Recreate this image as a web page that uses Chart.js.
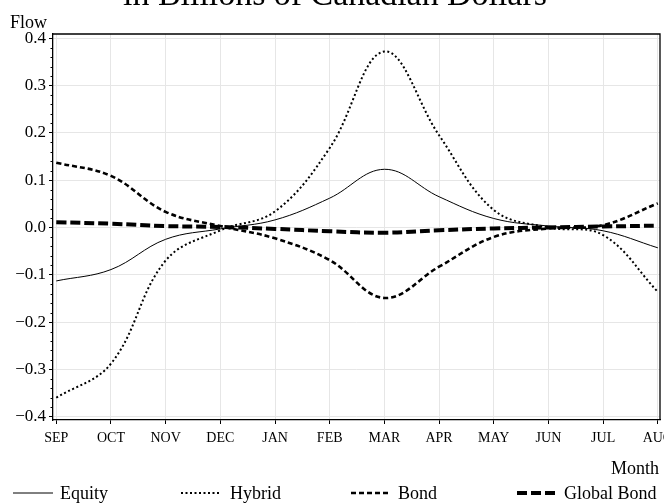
<!DOCTYPE html>
<html>
<head>
<meta charset="utf-8">
<script src="https://cdn.jsdelivr.net/npm/chart.js@4.4.1/dist/chart.umd.min.js"></script>
<style>
  html, body { margin: 0; padding: 0; background: #fff; }
  #wrap { width: 664px; height: 503px; position: relative; }
</style>
</head>
<body>
<div id="wrap"><canvas id="flowChart" width="664" height="503"></canvas></div>
<script>
// Data
const months = ['SEP', 'OCT', 'NOV', 'DEC', 'JAN', 'FEB', 'MAR', 'APR', 'MAY', 'JUN', 'JUL', 'AUG'];
const equity = [-0.113, -0.089, -0.025, -0.003, 0.016, 0.062, 0.123, 0.065, 0.019, 0.003, -0.007, -0.043];
const hybrid = [-0.360, -0.288, -0.070, -0.006, 0.034, 0.168, 0.372, 0.195, 0.037, 0.000, -0.016, -0.136];
const bond = [0.137, 0.109, 0.033, 0.003, -0.023, -0.069, -0.149, -0.083, -0.020, -0.002, 0.005, 0.051];
const globalBond = [0.011, 0.008, 0.003, 0.001, -0.003, -0.008, -0.011, -0.006, -0.002, 0.000, 0.002, 0.004];
const yTicks = [-0.4, -0.3, -0.2, -0.1, 0.0, 0.1, 0.2, 0.3, 0.4];
const titleText = 'in Billions of Canadian Dollars';

const SERIF = "'Liberation Serif', 'DejaVu Serif', serif";

const toPoints = (arr) => arr.map((v, i) => ({ x: i, y: v }));

const seriesDefs = [
    { label: 'Equity', data: equity, width: 1, dash: [] },
    { label: 'Hybrid', data: hybrid, width: 2, dash: [2, 2.5] },
    { label: 'Bond', data: bond, width: 2.6, dash: [5, 3] },
    { label: 'Global Bond', data: globalBond, width: 4, dash: [10, 4] }
];

const fmt = (v) => {
    const s = Math.abs(v).toFixed(1);
    return v < -1e-9 ? '\u2212' + s : s;
};

// frame, minor ticks, title, axis labels, legend
const decorPlugin = {
    id: 'decor',
    afterDraw(chart) {
        const ctx = chart.ctx;
        const area = chart.chartArea;
        const yScale = chart.scales.y;
        ctx.save();

        // frame
        ctx.strokeStyle = '#000';
        ctx.lineWidth = 1.3;
        ctx.setLineDash([]);
        ctx.beginPath();
        ctx.moveTo(area.left, area.top);
        ctx.lineTo(area.right, area.top);
        ctx.lineTo(area.right, area.bottom);
        ctx.stroke();

        // minor ticks on y
        ctx.lineWidth = 1;
        for (let k = -40; k <= 40; k += 2) {
            if (k % 10 === 0) continue;
            const py = Math.round(yScale.getPixelForValue(k / 100)) + 0.5;
            ctx.beginPath();
            ctx.moveTo(area.left - 2.5, py);
            ctx.lineTo(area.left, py);
            ctx.stroke();
        }

        // title (mostly cut off at the top)
        ctx.fillStyle = '#000';
        ctx.textAlign = 'center';
        ctx.textBaseline = 'alphabetic';
        let size = 28;
        ctx.font = size + 'px ' + SERIF;
        const w = ctx.measureText(titleText).width;
        size = size * 424 / w;
        ctx.font = size + 'px ' + SERIF;
        ctx.fillText(titleText, 335, 5);

        // axis labels
        ctx.font = '18px ' + SERIF;
        ctx.textAlign = 'left';
        ctx.fillText('Flow', 10, 28);
        ctx.textAlign = 'right';
        ctx.fillText('Month', 659, 474);

        // legend
        const legendX = [[13, 53, 60], [181, 221, 230], [351, 391, 398], [517, 557, 564]];
        const ly = 493;
        ctx.textAlign = 'left';
        seriesDefs.forEach((s, i) => {
            const [x0, x1, tx] = legendX[i];
            ctx.strokeStyle = '#000';
            ctx.lineWidth = s.width;
            ctx.setLineDash(s.dash);
            ctx.beginPath();
            ctx.moveTo(x0, ly);
            ctx.lineTo(x1, ly);
            ctx.stroke();
            ctx.setLineDash([]);
            ctx.fillText(s.label, tx, ly + 6);
        });
        ctx.restore();
    }
};

new Chart(document.getElementById('flowChart'), {
    type: 'line',
    data: {
        datasets: seriesDefs.map(s => ({
            label: s.label,
            data: toPoints(s.data),
            borderColor: '#000',
            borderWidth: s.width,
            borderDash: s.dash,
            pointRadius: 0,
            fill: false,
            tension: 0.38
        }))
    },
    options: {
        responsive: false,
        animation: false,
        layout: { padding: { top: 34, right: 4, left: 0, bottom: 0 } },
        plugins: {
            legend: { display: false },
            tooltip: { enabled: false },
            title: { display: false }
        },
        scales: {
            x: {
                type: 'linear',
                min: -0.06,
                max: 11.04,
                afterBuildTicks: (scale) => {
                    scale.ticks = months.map((m, i) => ({ value: i }));
                },
                afterFit: (scale) => {
                    scale.height = 83;
                    scale.paddingLeft = 0;
                    scale.paddingRight = 0;
                },
                ticks: {
                    autoSkip: false,
                    maxRotation: 0,
                    padding: 6,
                    color: '#000',
                    font: { family: SERIF, size: 14 },
                    callback: (v) => months[v]
                },
                grid: {
                    color: '#e6e6e6',
                    lineWidth: 1,
                    tickLength: 4,
                    tickColor: '#000',
                    drawTicks: true
                },
                border: { color: '#000', width: 1.3 }
            },
            y: {
                min: -0.407,
                max: 0.409,
                afterBuildTicks: (scale) => {
                    scale.ticks = yTicks.map(v => ({ value: v }));
                },
                afterFit: (scale) => {
                    scale.width = 53;
                    scale.paddingTop = 0;
                    scale.paddingBottom = 0;
                },
                ticks: {
                    padding: 3,
                    color: '#000',
                    font: { family: SERIF, size: 17 },
                    callback: (v) => fmt(v)
                },
                grid: {
                    color: '#e6e6e6',
                    lineWidth: 1,
                    tickLength: 4,
                    tickColor: '#000'
                },
                border: { color: '#000', width: 1.3 }
            }
        }
    },
    plugins: [decorPlugin]
});
</script>
</body>
</html>
